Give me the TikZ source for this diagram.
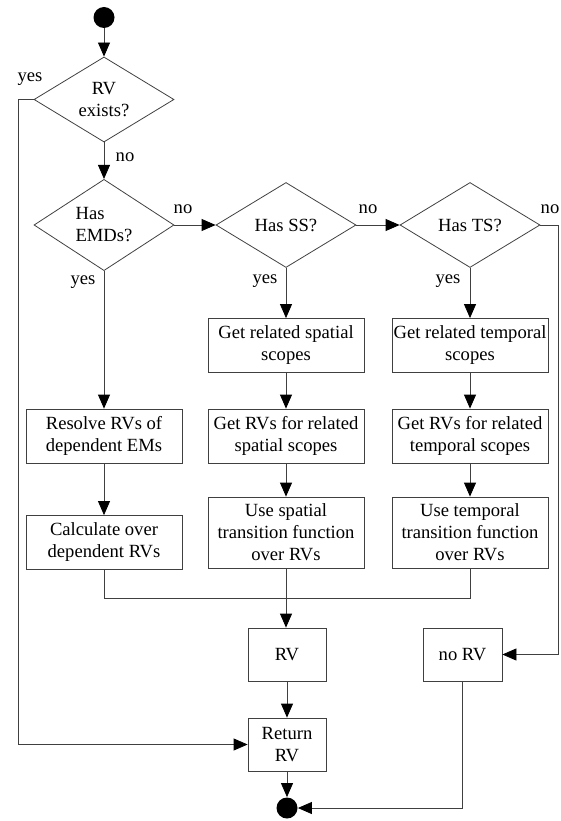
\documentclass[tikz,border=0pt]{standalone}
\usepackage{fontspec}
\setmainfont{Liberation Serif}
\usetikzlibrary{shapes.geometric,arrows.meta}
\colorlet{linecol}{black!75}
\begin{document}
\begin{tikzpicture}[x=1pt,y=-1pt,line width=0.8pt,
    every node/.style={font=\fontsize{18.6}{22}\selectfont},
    decision node/.style={diamond,draw=linecol,minimum width=140pt,minimum height=85pt,inner sep=0pt,align=center},
    step node/.style={rectangle,draw=linecol,minimum width=156pt,minimum height=54pt,inner sep=1pt,align=center},
    dot node/.style={circle,fill=black,minimum size=21pt,inner sep=0pt},
    flow/.style={linecol,-{Triangle[length=14pt,width=12pt,color=black]}}]
                \useasboundingbox (0,0) rectangle (561,821);

                \node[dot node] at (104,17.5) (start) {};
                \node[decision node] at (104,99.5) (rvexists) {RV\\exists?};
                \node[decision node,align=left] at (104,225) (hasemd) {Has\\EMDs?};
                \node[decision node] at (286,225) (hasss) {Has SS?};
                \node[decision node] at (470,225) (hasts) {Has TS?};

                \node[step node] at (104,436) (resolve) {Resolve RVs of\\dependent EMs};
                \node[step node] at (104,542.5) (calc) {Calculate over\\dependent RVs};

                \node[step node] at (286,345.5) (getss) {Get related spatial\\scopes};
                \node[step node] at (286,436) (rvss) {Get RVs for related\\spatial scopes};
                \node[step node,minimum height=71pt] at (286,532.5) (usess) {Use spatial\\transition function\\over RVs};

                \node[step node] at (470,345.5) (getts) {Get related temporal\\scopes};
                \node[step node] at (470,436) (rvts) {Get RVs for related\\temporal scopes};
                \node[step node,minimum height=71pt] at (470,532.5) (usets) {Use temporal\\transition function\\over RVs};

                \node[step node,minimum width=78pt,minimum height=53pt] at (287,654.5) (rv) {RV};
                \node[step node,minimum width=79pt,minimum height=53pt] at (462.5,654.5) (norv) {no RV};
                \node[step node,minimum width=78pt,minimum height=53pt] at (287,744.5) (ret) {Return\\RV};
                \node[dot node] at (287,808) (finish) {};

                \node at (30,79) (yes1) {yes};
                \node at (125,157) (no1) {no};
                \node at (183,209) (no2) {no};
                \node at (83,282) (yes2) {yes};
                \node at (368,209) (no3) {no};
                \node at (265,281) (yes3) {yes};
                \node at (550,209) (no4) {no};
                \node at (448,281) (yes4) {yes};
                \coordinate (join) at (286,598);

            \draw[flow] (start) -- (rvexists);
            \draw[flow] (rvexists) -- (hasemd);
            \draw[flow] (rvexists.west) -- ++(-15,0) |- (ret.west);
            \draw[flow] (hasemd) -- (hasss);
            \draw[flow] (hasss) -- (hasts);
            \draw[flow] (hasemd) -- (resolve);
            \draw[flow] (resolve) -- (calc);
            \draw[flow] (hasss) -- (getss);
            \draw[flow] (getss) -- (rvss);
            \draw[flow] (rvss) -- (usess);
            \draw[flow] (hasts) -- (getts);
            \draw[flow] (getts) -- (rvts);
            \draw[flow] (rvts) -- (usets);
            \draw[linecol] (calc.south) |- (join);
            \draw[linecol] (usets.south) |- (join);
            \draw[flow] (usess.south) -- (usess.south |- rv.north);
            \draw[flow] (hasts.east) -- ++(18,0) |- (norv.east);
            \draw[flow] (rv) -- (ret);
            \draw[flow] (ret) -- (finish);
            \draw[flow] (norv.south) |- (finish.east);

            \end{tikzpicture}
\end{document}
